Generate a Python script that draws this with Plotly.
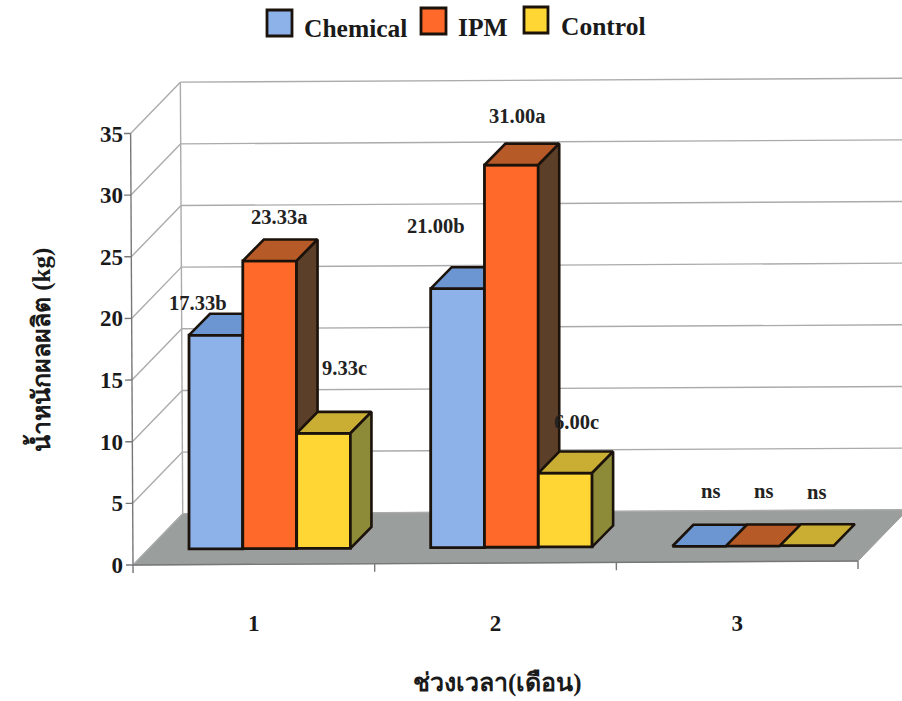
import plotly.graph_objects as go

# ---- data ----
categories = ["1", "2", "3"]
series_names = ["Chemical", "IPM", "Control"]
chemical = [17.33, 21.00, 0]
ipm = [23.33, 31.00, 0]
control = [9.33, 6.00, 0]
chemical_labels = ["17.33b", "21.00b", "ns"]
ipm_labels = ["23.33a", "31.00a", "ns"]
control_labels = ["9.33c", "6.00c", "ns"]
y_ticks = [0, 5, 10, 15, 20, 25, 30, 35]
y_title = "น้ำหนักผลผลิต (kg)"
x_title = "ช่วงเวลา(เดือน)"

# ---- styles / geometry ----
W, H = 902, 701
ORIGIN_X, ORIGIN_Y = 133, 565      # pixel of category 0, value 0
PLOT_L, PLOT_R, PLOT_T, PLOT_B = 124, 902, 70, 576
PX_CAT, PX_VAL = 241.67, 12.33
DEPTH_X, DEPTH_Y = 50, 51          # oblique wall depth, px
TILT = 0.0055                      # slight rotation of the picture
BAR_W = 0.2225
BAR_STARTS = [0.168, 0.3905, 0.6135]
D_FRONT, D_BAR = 0.31, 0.42
FRONT = ["#8DB1E9", "#FF6A2B", "#FFD633"]
TOP = ["#6C96D2", "#B65A28", "#C9AE33"]
SIDE = ["#5E7CB0", "#5C3F28", "#8D8A38"]
EDGE = "#1B120B"
GRID = "#ABABAB"
FLOOR = "#9A9E9D"
SERIF = "Liberation Serif, Noto Sans, DejaVu Serif"
INK = "#1A1A1A"
# label offsets from the bar's top-centre, px
LABEL_SHIFT = [
    [(-18, 32), (-22, 63), (11, 55)],
    [(9, 44), (6, 49), (10, 55)],
    [(21, 65), (11, 51), (10, 54)],
]
series_values = [chemical, ipm, control]
series_labels = [chemical_labels, ipm_labels, control_labels]


def project(x, v, d):
    """(category units, value units, depth 0..1) -> axis coordinates."""
    X = x * PX_CAT + d * DEPTH_X
    Y = v * PX_VAL + d * DEPTH_Y
    return (X - TILT * Y) / PX_CAT, (Y + TILT * X) / PX_VAL


def segs(pairs):
    xs, ys = [], []
    for a, b in pairs:
        p, q = project(*a), project(*b)
        xs += [p[0], q[0], None]
        ys += [p[1], q[1], None]
    return xs, ys


def poly(xs, ys, fill, name):
    return go.Scatter(x=xs, y=ys, mode="lines", fill="toself", fillcolor=fill,
                      line=dict(color=EDGE, width=2.6),
                      showlegend=False, hoverinfo="skip", name=name)


fig = go.Figure()

# floor
fl = [project(0, 0, 0), project(3, 0, 0), project(3, 0, 1), project(0, 0, 1), project(0, 0, 0)]
fig.add_trace(go.Scatter(x=[p[0] for p in fl], y=[p[1] for p in fl], mode="lines", fill="toself",
                         fillcolor=FLOOR, line=dict(color=FLOOR, width=1),
                         showlegend=False, hoverinfo="skip"))
# gridlines on back and side wall
pairs = []
for v in y_ticks:
    pairs.append(((0, v, 0), (0, v, 1)))
    pairs.append(((0, v, 1), (3.3, v, 1)))
pairs.append(((0, 0, 1), (0, 35, 1)))
gx, gy = segs(pairs)
fig.add_trace(go.Scatter(x=gx, y=gy, mode="lines", line=dict(color=GRID, width=1.4),
                         showlegend=False, hoverinfo="skip"))
# front axis lines and tick marks
tick_v, tick_x = 7 / PX_CAT, 8 / PX_VAL
pairs = [((0, 0, 0), (0, 35, 0)), ((0, 0, 0), (3, 0, 0))]
pairs += [((0, v, 0), (-tick_v, v, 0)) for v in y_ticks]
pairs += [((c, 0, 0), (c, -tick_x, 0)) for c in range(len(categories) + 1)]
ax_x, ax_y = segs(pairs)
fig.add_trace(go.Scatter(x=ax_x, y=ax_y, mode="lines", line=dict(color="#77777A", width=1.4),
                         showlegend=False, hoverinfo="skip"))

# bars: one overlaid axis pair per series, so that each series paints over the previous one
dx_bar = D_BAR * DEPTH_X / PX_CAT
dy_bar = D_BAR * DEPTH_Y / PX_VAL
annotations = []
for s, values in enumerate(series_values):
    xa, ya = f"x{s + 2}", f"y{s + 2}"
    bx, bb = [], []
    for c, val in enumerate(values):
        ax0, ab = project(c + BAR_STARTS[s], 0, D_FRONT)
        bx.append(ax0 + BAR_W / 2)
        bb.append(ab)
        x0, x1 = ax0, ax0 + BAR_W
        y0, y1 = ab, ab + val
        tr = poly([x0, x1, x1 + dx_bar, x0 + dx_bar, x0], [y1, y1, y1 + dy_bar, y1 + dy_bar, y1], TOP[s],
                  series_names[s] + " top")
        tr.update(xaxis=xa, yaxis=ya)
        fig.add_trace(tr)
        if val > 0:
            tr = poly([x1, x1 + dx_bar, x1 + dx_bar, x1, x1], [y0, y0 + dy_bar, y1 + dy_bar, y1, y0], SIDE[s],
                      series_names[s] + " side")
            tr.update(xaxis=xa, yaxis=ya)
            fig.add_trace(tr)
        sx, sy = LABEL_SHIFT[s][c]
        annotations.append(dict(x=ax0 + BAR_W / 2, y=y1, xref="x", yref="y", text=f"<b>{series_labels[s][c]}</b>",
                                showarrow=False, xshift=sx, yshift=sy,
                                font=dict(family=SERIF, size=20.5, color="#222222")))
    fig.add_trace(go.Bar(x=bx, y=values, base=bb, width=BAR_W, name=series_names[s],
                         marker=dict(color=FRONT[s], line=dict(color=EDGE, width=2.8)),
                         xaxis=xa, yaxis=ya, showlegend=False))


# pixel -> paper helpers for the hand-placed legend and axis titles
def xp(px):
    return (px - PLOT_L) / (PLOT_R - PLOT_L)


def yp(py):
    return (PLOT_B - py) / (PLOT_B - PLOT_T)


shapes = []
swatches = [(267, 292, 10, 36), (421, 446, 8, 34), (524, 548, 7, 33)]
text_pos = [(302, 28), (456, 27), (559, 26)]
for s, name in enumerate(series_names):
    a, b, c, d = swatches[s]
    shapes.append(dict(type="rect", xref="paper", yref="paper", x0=xp(a), x1=xp(b), y0=yp(d), y1=yp(c),
                       fillcolor=FRONT[s], line=dict(color=EDGE, width=2.8)))
    annotations.append(dict(x=xp(text_pos[s][0]), y=yp(text_pos[s][1]), xref="paper", yref="paper",
                            xanchor="left", yanchor="middle", showarrow=False, text=f"<b>{name}</b>",
                            font=dict(family=SERIF, size=25.5, color=INK)))
annotations.append(dict(x=xp(497), y=yp(683), xref="paper", yref="paper", showarrow=False,
                        xanchor="center", yanchor="middle",
                        text=f"<b>{x_title}</b>", font=dict(family=SERIF, size=25, color=INK)))
annotations.append(dict(x=xp(39), y=yp(350), xref="paper", yref="paper", showarrow=False, textangle=-90,
                        xanchor="center", yanchor="middle",
                        text=f"<b>{y_title}</b>", font=dict(family=SERIF, size=25, color=INK)))

overlay = dict(visible=False, fixedrange=True)
fig.update_layout(
    width=W, height=H, margin=dict(l=PLOT_L, r=W - PLOT_R, t=PLOT_T, b=H - PLOT_B, pad=0),
    paper_bgcolor="white", plot_bgcolor="rgba(0,0,0,0)", showlegend=False,
    annotations=annotations, shapes=shapes,
    xaxis=dict(range=[(PLOT_L - ORIGIN_X) / PX_CAT, (PLOT_R - ORIGIN_X) / PX_CAT],
               tickmode="array", tickvals=[0.5, 1.5, 2.5], ticktext=categories,
               ticks="", showgrid=False, zeroline=False, showline=False, ticklabelstandoff=31,
               tickfont=dict(family=SERIF, size=23, color=INK, weight="bold")),
    yaxis=dict(range=[(ORIGIN_Y - PLOT_B) / PX_VAL, (ORIGIN_Y - PLOT_T) / PX_VAL],
               tickmode="array", tickvals=y_ticks,
               ticks="", showgrid=False, zeroline=False, showline=False, ticklabelstandoff=0,
               tickfont=dict(family=SERIF, size=23, color=INK, weight="bold")),
)
for i in range(2, 5):
    fig.update_layout({f"xaxis{i}": dict(overlay, overlaying="x", matches="x"),
                       f"yaxis{i}": dict(overlay, overlaying="y", matches="y")})

fig.write_html("out.html", config={"displayModeBar": False},
               post_script="document.body.style.margin='0';document.body.style.overflow='hidden';")
